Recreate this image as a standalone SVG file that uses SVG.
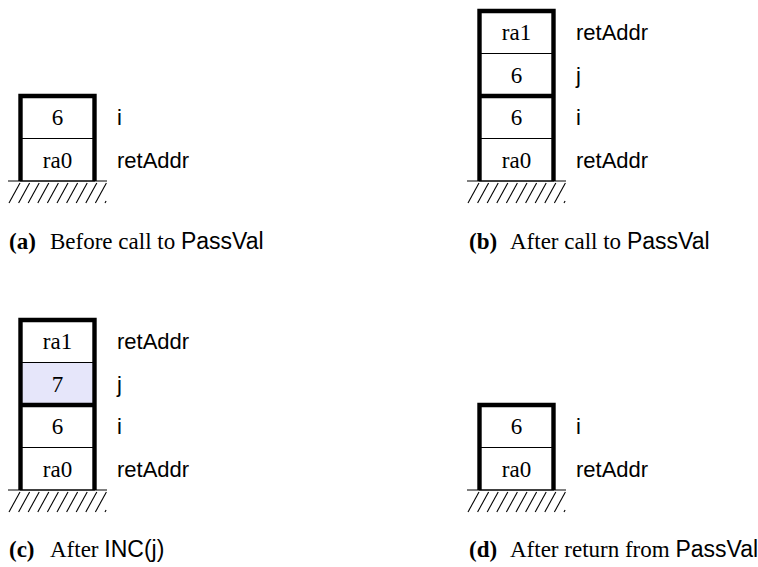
<svg xmlns="http://www.w3.org/2000/svg" width="758" height="567" viewBox="0 0 758 567">
<style>
.cell{fill:#fff;stroke:#000;stroke-width:1}
.hl{fill:#e6e6fa}
.frame{fill:none;stroke:#000;stroke-width:4.4;stroke-linejoin:miter}
.ground{stroke:#000;stroke-width:3}
.hatch line{stroke:#000;stroke-width:1.1}
.val{font-family:"Liberation Serif","Times New Roman",serif;font-size:23px;text-anchor:middle;fill:#000}
.lab{font-family:"Liberation Sans",Arial,sans-serif;font-size:22px;fill:#000}
.cap{font-family:"Liberation Serif","Times New Roman",serif;font-size:23px;fill:#000}
.capb{font-weight:bold}
.sans{font-family:"Liberation Sans",Arial,sans-serif}
</style>
<defs>
<g id="base" class="hatch">
<line class="ground" x1="-49.5" y1="0" x2="49.5" y2="0"/>
<line x1="-48.5" y1="22" x2="-37.5" y2="2"/>
<line x1="-38.9" y1="22" x2="-27.9" y2="2"/>
<line x1="-29.3" y1="22" x2="-18.3" y2="2"/>
<line x1="-19.7" y1="22" x2="-8.7" y2="2"/>
<line x1="-10.1" y1="22" x2="0.9" y2="2"/>
<line x1="-0.5" y1="22" x2="10.5" y2="2"/>
<line x1="9.1" y1="22" x2="20.1" y2="2"/>
<line x1="18.7" y1="22" x2="29.7" y2="2"/>
<line x1="28.3" y1="22" x2="39.3" y2="2"/>
<line x1="37.9" y1="22" x2="48.9" y2="2"/>
<line x1="47.5" y1="22" x2="48.6" y2="20"/>
</g>
</defs>

<!-- Panel (a) -->
<g id="panel-a">
<g id="a-i"><rect class="cell" x="20.5" y="96" width="74" height="42.5"/><text class="val" x="57.5" y="125">6</text><text class="lab" x="117" y="125">i</text></g>
<g id="a-ra0"><rect class="cell" x="20.5" y="138.5" width="74" height="42.5"/><text class="val" x="57.5" y="167.5">ra0</text><text class="lab" x="117" y="167.5">retAddr</text></g>
<path class="frame" d="M20.5,181 V96 H94.5 V181"/>
<use href="#base" x="57.5" y="181"/>
<text class="cap" x="9" y="249"><tspan class="capb">(a)</tspan></text>
<text class="cap" x="50" y="249">Before call to <tspan class="sans">PassVal</tspan></text>
</g>

<!-- Panel (b) -->
<g id="panel-b">
<g id="b-ra1"><rect class="cell" x="479.5" y="11" width="74" height="42.5"/><text class="val" x="516.5" y="40">ra1</text><text class="lab" x="576" y="40">retAddr</text></g>
<g id="b-j"><rect class="cell" x="479.5" y="53.5" width="74" height="42.5"/><text class="val" x="516.5" y="82.5">6</text><text class="lab" x="576" y="82.5">j</text></g>
<g id="b-i"><rect class="cell" x="479.5" y="96" width="74" height="42.5"/><text class="val" x="516.5" y="125">6</text><text class="lab" x="576" y="125">i</text></g>
<g id="b-ra0"><rect class="cell" x="479.5" y="138.5" width="74" height="42.5"/><text class="val" x="516.5" y="167.5">ra0</text><text class="lab" x="576" y="167.5">retAddr</text></g>
<path class="frame" d="M479.5,181 V11 H553.5 V181 M479.5,96 H553.5"/>
<use href="#base" x="516.5" y="181"/>
<text class="cap" x="469" y="249"><tspan class="capb">(b)</tspan></text>
<text class="cap" x="510" y="249">After call to <tspan class="sans">PassVal</tspan></text>
</g>

<!-- Panel (c) -->
<g id="panel-c">
<g id="c-ra1"><rect class="cell" x="20.5" y="320" width="74" height="42.5"/><text class="val" x="57.5" y="349">ra1</text><text class="lab" x="117" y="349">retAddr</text></g>
<g id="c-j"><rect class="cell hl" x="20.5" y="362.5" width="74" height="42.5"/><text class="val" x="57.5" y="391.5">7</text><text class="lab" x="117" y="391.5">j</text></g>
<g id="c-i"><rect class="cell" x="20.5" y="405" width="74" height="42.5"/><text class="val" x="57.5" y="434">6</text><text class="lab" x="117" y="434">i</text></g>
<g id="c-ra0"><rect class="cell" x="20.5" y="447.5" width="74" height="42.5"/><text class="val" x="57.5" y="476.5">ra0</text><text class="lab" x="117" y="476.5">retAddr</text></g>
<path class="frame" d="M20.5,490 V320 H94.5 V490 M20.5,405 H94.5"/>
<use href="#base" x="57.5" y="490"/>
<text class="cap" x="9" y="557"><tspan class="capb">(c)</tspan></text>
<text class="cap" x="50" y="557">After <tspan class="sans">INC(j)</tspan></text>
</g>

<!-- Panel (d) -->
<g id="panel-d">
<g id="d-i"><rect class="cell" x="479.5" y="405" width="74" height="42.5"/><text class="val" x="516.5" y="434">6</text><text class="lab" x="576" y="434">i</text></g>
<g id="d-ra0"><rect class="cell" x="479.5" y="447.5" width="74" height="42.5"/><text class="val" x="516.5" y="476.5">ra0</text><text class="lab" x="576" y="476.5">retAddr</text></g>
<path class="frame" d="M479.5,490 V405 H553.5 V490"/>
<use href="#base" x="516.5" y="490"/>
<text class="cap" x="469" y="557"><tspan class="capb">(d)</tspan></text>
<text class="cap" x="510" y="557">After return from <tspan class="sans">PassVal</tspan></text>
</g>
</svg>
